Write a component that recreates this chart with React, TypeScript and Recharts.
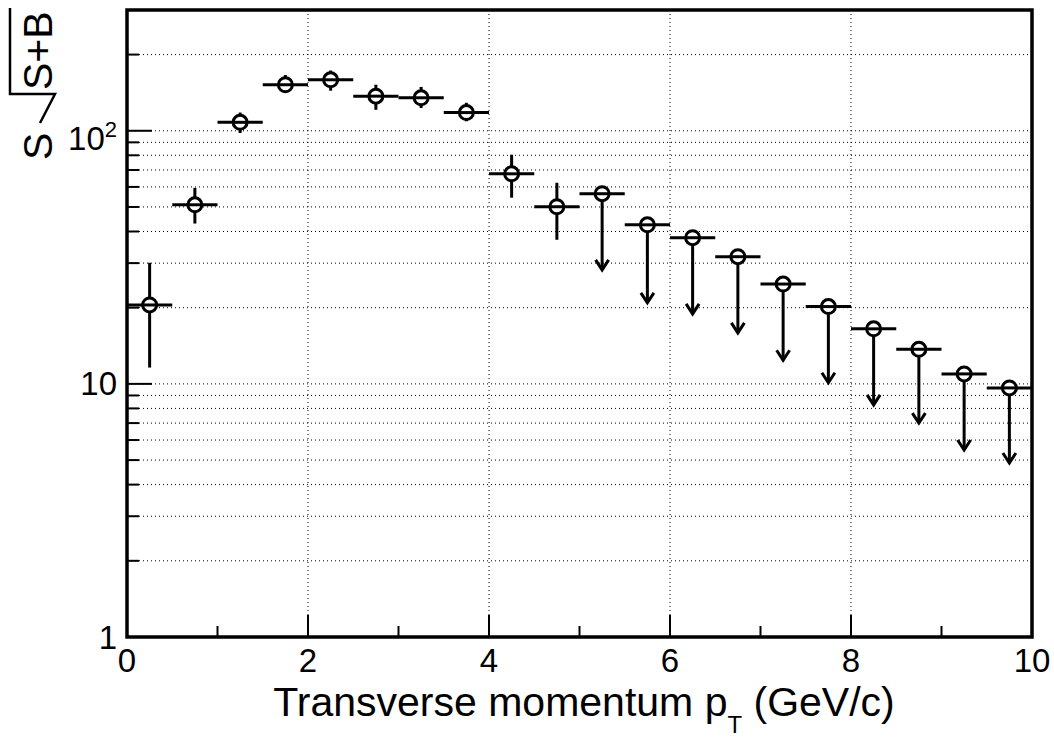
import React from "react"
import { ScatterChart, Scatter, XAxis, YAxis, CartesianGrid, ErrorBar, ReferenceArea } from "recharts"

// measured bins: pT centre, S/sqrt(S+B), lower/upper edge of the error bar
const ptBins = [0.25, 0.75, 1.25, 1.75, 2.25, 2.75, 3.25, 3.75, 4.25, 4.75]
const signif = [20.5, 51, 108, 152, 159, 137, 135, 118, 67.6, 50.1]
const signifLow = [11.6, 43, 98, 141, 144, 121, 123, 109, 54.4, 37.1]
const signifHigh = [30.1, 59.5, 118, 166, 173, 152, 149, 129, 80.4, 62.3]

// bins shown as upper limits (arrow down to arrowEnd)
const ptLimitBins = [5.25, 5.75, 6.25, 6.75, 7.25, 7.75, 8.25, 8.75, 9.25, 9.75]
const limitSignif = [56.4, 42.5, 37.8, 31.8, 24.8, 20.2, 16.5, 13.7, 10.95, 9.64]
const arrowEnd = [28.2, 20.9, 18.9, 15.9, 12.4, 10.1, 8.26, 7.0, 5.48, 4.87]

const binHalfWidth = 0.25

const xTicks = [0, 1, 2, 3, 4, 5, 6, 7, 8, 9, 10]
const xLabelled = [0, 2, 4, 6, 8, 10]
const yTicks = [1, 2, 3, 4, 5, 6, 7, 8, 9, 10, 20, 30, 40, 50, 60, 70, 80, 90, 100, 200]
const yLabelled = [1, 10, 100]

const measured = ptBins.map((x, i) => ({
  x,
  y: signif[i],
  ex: binHalfWidth,
  ey: [signif[i] - signifLow[i], signifHigh[i] - signif[i]],
}))

const limits = ptLimitBins.map((x, i) => ({
  x,
  y: limitSignif[i],
  ex: binHalfWidth,
  ey: [limitSignif[i] - arrowEnd[i], 0],
}))

const arrowHeads = ptLimitBins.map((x, i) => ({ x, y: arrowEnd[i] }))

const FONT = "'Liberation Sans', Arial, Helvetica, sans-serif"

const OpenCircle = (props: any) => {
  const { cx, cy } = props
  return (
    <g>
      <circle cx={cx} cy={cy} r={7} fill="#fff" stroke="#000" strokeWidth={3} />
      <line x1={cx - 7} x2={cx + 7} y1={cy} y2={cy} stroke="#000" strokeWidth={3} />
    </g>
  )
}

const ArrowHead = (props: any) => {
  const { cx, cy } = props
  return <path d={`M${cx - 6.5},${cy - 10} L${cx},${cy} L${cx + 6.5},${cy - 10}`} fill="none" stroke="#000" strokeWidth={3} />
}

const XTick = (props: any) => {
  const { x, y, payload } = props
  const v = payload.value
  const major = xLabelled.includes(v)
  return (
    <g>
      <line x1={x} x2={x} y1={y} y2={y - (major ? 22 : 11)} stroke="#000" strokeWidth={2} />
      {major && (
        <text x={x} y={y + 35} textAnchor="middle" fontSize={33} fontFamily={FONT} fill="#000">
          {v}
        </text>
      )}
    </g>
  )
}

const YTick = (props: any) => {
  const { x, y, payload } = props
  const v = payload.value
  const major = yLabelled.includes(v)
  let label = null
  if (v === 100) {
    label = (
      <text x={x - 10} y={y + 19} textAnchor="end" fontSize={33} fontFamily={FONT} fill="#000">
        10<tspan dy={-13} fontSize={22}>2</tspan>
      </text>
    )
  } else if (major) {
    label = (
      <text x={x - 10} y={y + 11.5} textAnchor="end" fontSize={33} fontFamily={FONT} fill="#000">
        {v}
      </text>
    )
  }
  return (
    <g>
      <line x1={x} x2={x + (major ? 25 : 12)} y1={y} y2={y} stroke="#000" strokeWidth={2} />
      {label}
    </g>
  )
}

const XTitle = () => (
  <text x={584} y={716} textAnchor="middle" fontSize={41} fontFamily={FONT} fill="#000">
    Transverse momentum p
    <tspan dy={17} fontSize={24}>T</tspan>
    <tspan dy={-17} fontSize={41}> (GeV/c)</tspan>
  </text>
)

const YTitle = () => (
  <g transform="translate(52,160) rotate(-90)">
    <text x={0} y={0} fontSize={41} fontFamily={FONT} fill="#000">S</text>
    <path d="M37,-12 L66,3 L66,-42 L152,-42" fill="none" stroke="#000" strokeWidth={2.5} />
    <text x={70} y={0} fontSize={41} fontFamily={FONT} fill="#000">S+B</text>
  </g>
)

export default function App() {
  return (
    <div style={{ position: "absolute", left: 0, top: 0, background: "#fff" }}>
      <ScatterChart width={1054} height={743} margin={{ top: 10, right: 22, bottom: 0, left: 0 }}>
        <CartesianGrid
          stroke="#000"
          strokeWidth={1}
          strokeDasharray="1 3"
          verticalValues={xLabelled}
          horizontalValues={yTicks}
        />
        <XAxis
          type="number"
          dataKey="x"
          domain={[0, 10]}
          ticks={xTicks}
          interval={0}
          height={106}
          axisLine={false}
          tickLine={false}
          tickSize={0}
          tickMargin={0}
          tick={<XTick />}
          allowDataOverflow
          label={{ content: () => <XTitle /> }}
        />
        <YAxis
          type="number"
          dataKey="y"
          scale="log"
          domain={[1, 300]}
          ticks={yTicks}
          interval={0}
          width={127}
          axisLine={false}
          tickLine={false}
          tickSize={0}
          tickMargin={0}
          tick={<YTick />}
          allowDataOverflow
          label={{ content: () => <YTitle /> }}
        />
        <ReferenceArea x1={0} x2={10} y1={1} y2={300} fill="none" stroke="#000" strokeWidth={3.5} ifOverflow="visible" />
        <Scatter data={measured} shape={<OpenCircle />} isAnimationActive={false}>
          <ErrorBar dataKey="ex" direction="x" width={0} stroke="#000" strokeWidth={3} isAnimationActive={false} />
          <ErrorBar dataKey="ey" direction="y" width={0} stroke="#000" strokeWidth={3} isAnimationActive={false} />
        </Scatter>
        <Scatter data={limits} shape={<OpenCircle />} isAnimationActive={false}>
          <ErrorBar dataKey="ex" direction="x" width={0} stroke="#000" strokeWidth={3} isAnimationActive={false} />
          <ErrorBar dataKey="ey" direction="y" width={0} stroke="#000" strokeWidth={3} isAnimationActive={false} />
        </Scatter>
        <Scatter data={arrowHeads} shape={<ArrowHead />} isAnimationActive={false} />
      </ScatterChart>
    </div>
  )
}
